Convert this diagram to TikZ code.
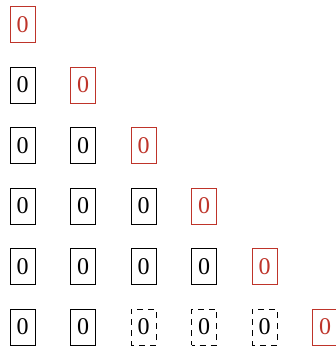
\documentclass[tikz,border=0pt]{standalone}
\usepackage{fontspec}
\setmainfont{Liberation Serif}
\definecolor{cellred}{RGB}{190,52,42}
\begin{document}
\begin{tikzpicture}[x=1pt, y=1pt,
  cell/.style={draw, minimum width=25pt, minimum height=36pt, inner sep=0pt,
               font=\fontsize{24}{24}\selectfont},
  redcell/.style={cell, draw=cellred, text=cellred},
  ghostcell/.style={cell, dash pattern=on 6pt off 5pt, dash phase=3pt},
]
  \useasboundingbox (0,0) rectangle (335,-347);
  % new entry of each row, in red
  \foreach \i in {0,...,5}
    \node[redcell] (n-\i-\i) at (22.5+60.5*\i, -24.5-60.5*\i) {0};
  % older entries
  \foreach \i/\last in {1/0, 2/1, 3/2, 4/3, 5/1}
    \foreach \j in {0,...,\last}
      \node[cell] (n-\i-\j) at (22.5+60.5*\j, -24.5-60.5*\i) {0};
  % last row: dashed entries
  \foreach \j in {2,3,4}
    \node[ghostcell] (n-5-\j) at (22.5+60.5*\j, -24.5-60.5*5) {0};
\end{tikzpicture}
\end{document}
